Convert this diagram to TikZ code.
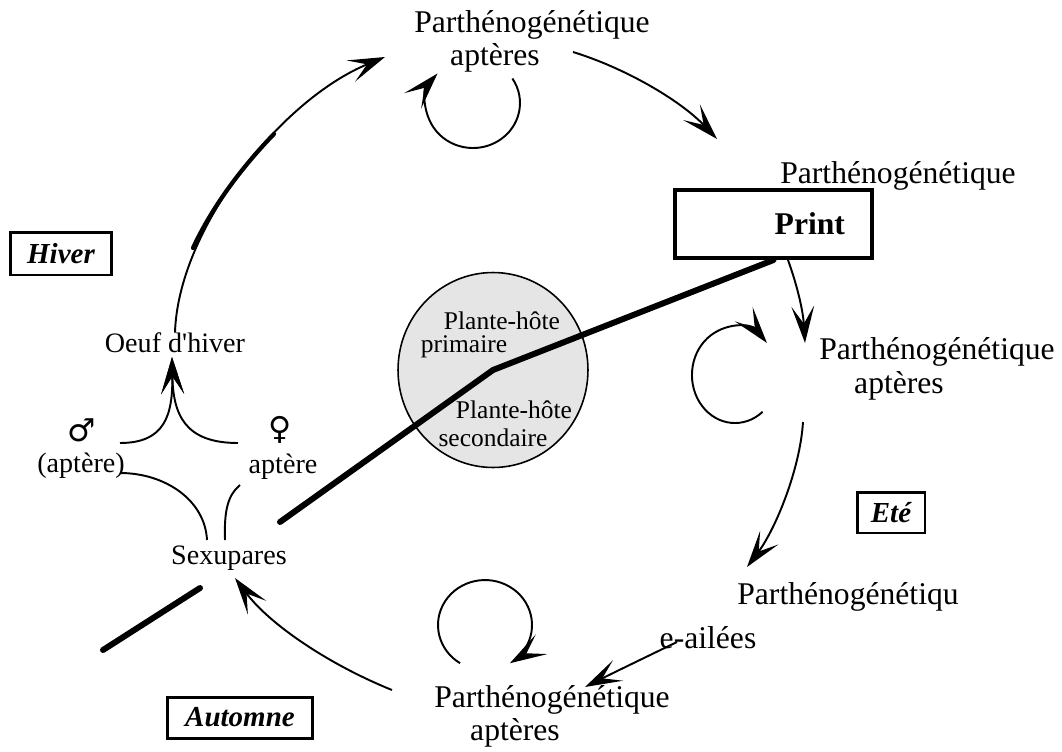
\documentclass[tikz,border=0pt]{standalone}
\usepackage{fontspec}
\setmainfont{Liberation Serif}
\newfontfamily\symbfont{DejaVu Sans}
\usetikzlibrary{%
  arrows.meta
 ,shapes.geometric
}
\tikzstyle{big}=[inner sep=0pt,font=\fontsize{18}{19}\selectfont]
\tikzstyle{sml}=[inner sep=0pt,font=\fontsize{16}{17}\selectfont]
\tikzstyle{hst}=[inner sep=0pt,font=\fontsize{14.5}{15}\selectfont]
\tikzstyle{sym}=[inner sep=0pt,font=\symbfont\fontsize{18}{19}\selectfont]
\tikzstyle{season}=[draw,line width=1.7pt,inner sep=0pt,font=\fontsize{16.5}{18}\selectfont\bfseries\itshape]
\tikzstyle{cyc}=[line width=1.1pt]
\tikzstyle{arr}=[cyc,-{Stealth[length=21pt,width=13pt,inset=10pt]}]
\tikzstyle{heavy}=[line width=3.4pt,line cap=round]
\tikzstyle{rough}=[line width=2.4pt,line cap=round]

\begin{document}
\begin{tikzpicture}[x=0.02cm,y=-0.02cm]
  \useasboundingbox (0,0) rectangle (1062,751);
  % plantes-hotes
  \node[draw,ellipse,line width=0.9pt,fill=gray!20,minimum width=3.8cm,minimum height=3.9cm] (host) at (493,370) {};
  \node[hst] (hp1) at (502,321) {Plante-hôte};
  \node[hst] (hp2) at (464,347) {primaire};
  \node[hst] (hs1) at (514,410) {Plante-hôte};
  \node[hst] (hs2) at (493,438) {secondaire};
  % formes
  \node[big] (topP) at (532,25) {Parthénogénétique};
  \node[big] (topA) at (495,58) {aptères};
  \node[big] (rtP) at (898,176) {Parthénogénétique};
  \node[draw,line width=2.3pt,inner xsep=0.54cm,inner ysep=0pt,text width=2.86cm,align=right,minimum height=1.36cm,font=\fontsize{18}{19}\selectfont\bfseries] (print) at (773.5,224) {Print};
  \node[big] (midP) at (937,352) {Parthénogénétique};
  \node[big] (midA) at (899,386) {aptères};
  \node[big] (wingP) at (848,597) {Parthénogénétiqu};
  \node[big] (ailees) at (708,638) {e-ailées};
  \node[big] (botP) at (552,700) {Parthénogénétique};
  \node[big] (botA) at (515,733) {aptères};
  \node[sml] (sex) at (229,558) {Sexupares};
  \node[sml] (mapt) at (81,466) {(aptère)};
  \node[sml] (fapt) at (283,467) {aptère};
  \node[sym] (male) at (82,430) {♂};
  \node[sym] (female) at (280,430) {♀};
  \node[sml] (oeuf) at (175,343) {Oeuf d\textquotesingle hiver};
  % saisons
  \node[season,minimum width=2.04cm,minimum height=0.86cm] (hiver) at (61,253.5) {Hiver};
  \node[season,minimum width=1.36cm,minimum height=0.82cm] (ete) at (891,512.5) {Eté};
  \node[season,minimum width=2.92cm,minimum height=0.82cm] (automne) at (240,717.5) {Automne};
  \coordinate (thickend) at (280,522);
  \coordinate (stubA) at (103,650);
  \coordinate (stubB) at (200,588);
%
  \draw[heavy] (print.south) -- (host.center) -- (thickend);
  \draw[heavy] (stubA) -- (stubB);
  \draw[arr] (oeuf.north) .. controls (178,230) and (280,100) .. ([shift={(-147,32)}]topP.center);
  \draw[rough] (193,248) .. controls (211,209) and (240,169) .. (274,134);
  \draw[arr] ([shift={(17.4,20.5)}]topA.center) arc[start angle=-33,end angle=221,x radius=47,y radius=45];
  \draw[arr] ([shift={(78,-6)}]topA.center) .. controls (625,68) and (680,100) .. ([shift={(-181,-37)}]rtP.center);
  \draw[arr] ([xshift=0.29cm]print.south) .. controls (797,285) and (803,310) .. ([shift={(-132,-9)}]midP.center);
  \draw[arr] ([shift={(-136.4,25.8)}]midA.center) arc[start angle=50,end angle=318,x radius=43,y radius=48];
  \draw[arr] ([shift={(-96,36)}]midA.center) .. controls (800,470) and (775,530) .. ([shift={(-101,-30)}]wingP.center);
  \draw[arr] ([shift={(-31,4)}]ailees.center) .. controls (646,657) and (615,672) .. ([shift={(33,-13)}]botP.center);
  \draw[arr] ([shift={(-91.9,-36.8)}]botP.center) arc[start angle=122,end angle=418,x radius=47,y radius=45];
  \draw[arr] ([shift={(-160,-10)}]botP.center) .. controls (330,665) and (270,625) .. ([shift={(6,20)}]sex.center);
  \draw[cyc] ([shift={(-22,-18)}]sex.center) .. controls (205,500) and (165,473) .. ([shift={(39,7)}]mapt.center);
  \draw[cyc] ([shift={(-4,-18)}]sex.center) .. controls (224,510) and (228,495) .. ([shift={(-43,18)}]fapt.center);
  \draw[arr] ([shift={(38,13)}]male.center) .. controls (165,443) and (173,415) .. ([shift={(-3,14)}]oeuf.center);
  \draw[arr] ([shift={(-42,13)}]female.center) .. controls (185,443) and (173,415) .. ([shift={(-3,14)}]oeuf.center);
\end{tikzpicture}
\end{document}
